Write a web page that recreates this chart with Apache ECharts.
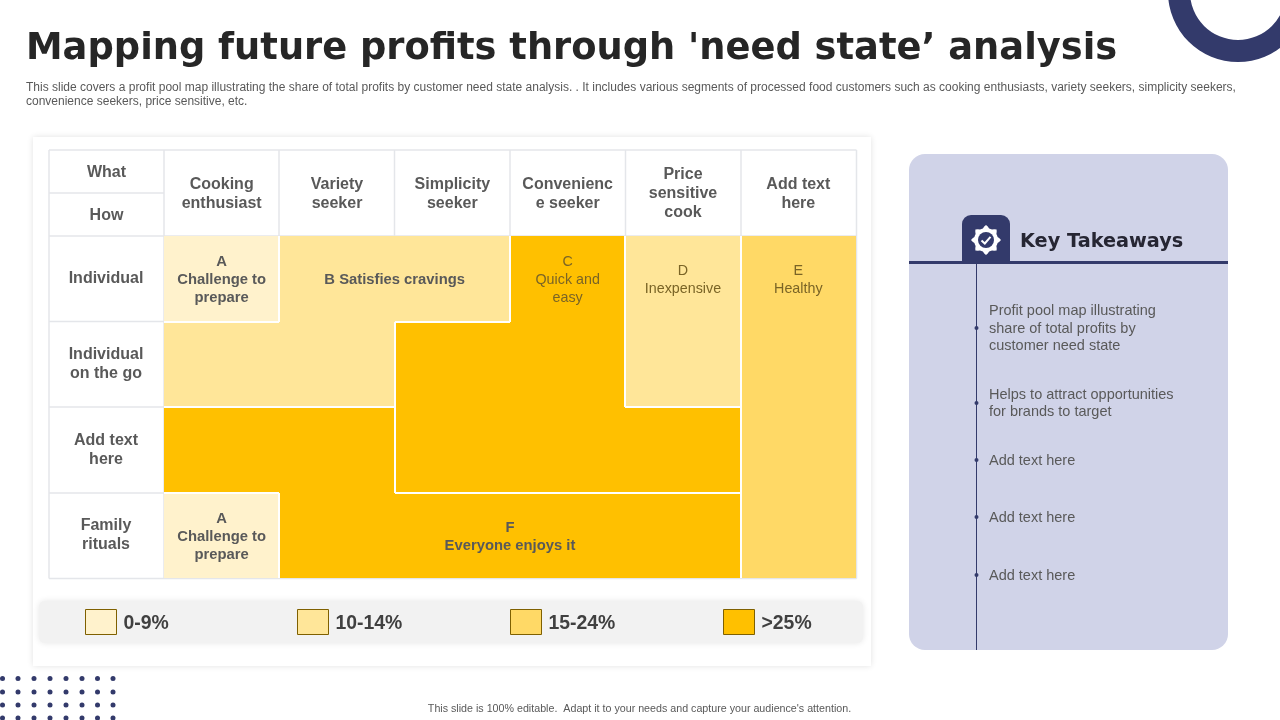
<!DOCTYPE html>
<html>
<head>
<meta charset="utf-8">
<title>Need state analysis</title>
<script src="https://cdn.jsdelivr.net/npm/echarts@6/dist/echarts.min.js"></script>
<style>
  html, body { margin: 0; padding: 0; background: #fff; }
  #main { width: 1280px; height: 720px; }
</style>
</head>
<body>
<div id="main"></div>
<script>
// 数据
const segments = ['Cooking\nenthusiast', 'Variety\nseeker', 'Simplicity\nseeker', 'Convenienc\ne seeker', 'Price\nsensitive\ncook', 'Add text\nhere'];
const occasions = ['Individual', 'Individual\non the go', 'Add text\nhere', 'Family\nrituals'];
const legendLabels = ['0-9%', '10-14%', '15-24%', '>25%'];
// share band per cell, one row per occasion (index into legendLabels)
const bandRow0 = [0, 1, 1, 3, 1, 2];
const bandRow1 = [1, 1, 3, 3, 1, 2];
const bandRow2 = [3, 3, 3, 3, 3, 2];
const bandRow3 = [0, 3, 3, 3, 3, 2];
// which merged block each cell belongs to
const blockRow0 = ['A', 'B', 'B', 'C', 'D', 'E'];
const blockRow1 = ['B', 'B', 'C', 'C', 'D', 'E'];
const blockRow2 = ['F', 'F', 'C', 'C', 'C', 'E'];
const blockRow3 = ['A2', 'F', 'F', 'F', 'F', 'E'];
// block captions: first column, last column, row, text, bold
const captions = [
    [0, 0, 0, 'A\nChallenge to\nprepare', true],
    [1, 2, 0, 'B Satisfies cravings', true],
    [3, 3, 0, 'C\nQuick and\neasy', false],
    [4, 4, 0, 'D\nInexpensive', false],
    [5, 5, 0, 'E\nHealthy', false],
    [0, 0, 3, 'A\nChallenge to\nprepare', true],
    [1, 4, 3, 'F\nEveryone enjoys it', true]
];
const takeaways = [
    'Profit pool map illustrating\nshare of total profits by\ncustomer need state',
    'Helps to attract opportunities\nfor brands to target',
    'Add text here',
    'Add text here',
    'Add text here'
];

const bandRows = [bandRow0, bandRow1, bandRow2, bandRow3];
const blockRows = [blockRow0, blockRow1, blockRow2, blockRow3];

// 样式
const bandColors = ['#FFF2CC', '#FFE699', '#FFD966', '#FFC000'];
const navy = '#333A6B';
const textGrey = '#595959';
const lineGrey = '#E4E6EA';
const sans = '"Liberation Sans", Arial, sans-serif';
const heavy = '"DejaVu Sans", Verdana, sans-serif';

const chart = echarts.init(document.getElementById('main'));

const cellData = [];
bandRows.forEach((row, r) => row.forEach((band, c) => cellData.push([c, r, band])));

function renderCell(params, api) {
    const c = api.value(0);
    const r = api.value(1);
    const center = api.coord([c, r]);
    const size = api.size([1, 1]);
    const x0 = Math.round(center[0] - size[0] / 2);
    const x1 = Math.round(center[0] + size[0] / 2);
    const y0 = Math.round(center[1] - size[1] / 2);
    const y1 = Math.round(center[1] + size[1] / 2);
    const children = [{
        type: 'rect',
        shape: { x: x0, y: y0, width: x1 - x0, height: y1 - y0 },
        style: { fill: bandColors[api.value(2)] }
    }];
    const edge = (ax, ay, bx, by) => ({
        type: 'line',
        z2: 5,
        shape: { x1: ax, y1: ay, x2: bx, y2: by },
        style: { stroke: '#FFFFFF', lineWidth: 2 }
    });
    // 只在不同区块之间画白线
    if (c < segments.length - 1 && blockRows[r][c] !== blockRows[r][c + 1]) {
        children.push(edge(x1, y0, x1, y1));
    }
    if (r < occasions.length - 1 && blockRows[r][c] !== blockRows[r + 1][c]) {
        children.push(edge(x0, y1, x1, y1));
    }
    return { type: 'group', children: children };
}

function renderCaption(params, api) {
    const start = api.coord([api.value(0), api.value(2)]);
    const end = api.coord([api.value(1), api.value(2)]);
    const item = captions[params.dataIndex];
    return {
        type: 'text',
        z2: 10,
        style: {
            x: (start[0] + end[0]) / 2,
            y: start[1] + 1.3,
            text: item[3],
            align: 'center',
            verticalAlign: 'middle',
            lineHeight: 18,
            fill: item[4] ? textGrey : '#7A6426',
            font: (item[4] ? 'bold 14.8px ' : '14.3px ') + sans
        }
    };
}

// 表头、卡片等装饰
const frame = [
    { type: 'rect', shape: { x: 33, y: 137, width: 838, height: 529 }, style: { fill: '#fff', shadowBlur: 6, shadowColor: 'rgba(0,0,0,0.12)' } },
    { type: 'rect', shape: { x: 39, y: 601, width: 824, height: 42, r: 6 }, style: { fill: '#F2F2F2', shadowBlur: 6, shadowColor: 'rgba(0,0,0,0.10)' } }
];
const tableLine = (x1, y1, x2, y2) => ({
    type: 'line',
    shape: { x1: x1, y1: y1, x2: x2, y2: y2 },
    style: { stroke: lineGrey, lineWidth: 1.5 }
});
[49, 164, 279, 394.5, 510, 625.5, 741, 856.5].forEach((x, i) => {
    const full = i < 2 || i === 7;
    frame.push(tableLine(x, 150, x, full ? 578.5 : 236));
});
[150, 236].forEach(y => frame.push(tableLine(49, y, 856.5, y)));
frame.push(tableLine(49, 193, 164, 193));
[321.5, 407, 493, 578.5].forEach(y => frame.push(tableLine(49, y, 164, y)));
frame.push(tableLine(164, 578.5, 856.5, 578.5));

const cornerText = (text, y) => ({
    type: 'text',
    style: { x: 106.5, y: y, text: text, align: 'center', verticalAlign: 'middle', fill: textGrey, font: 'bold 16px ' + sans }
});
frame.push(cornerText('What', 173), cornerText('How', 216));

// 图例
const legendX = [85, 297, 510, 723];
legendLabels.forEach((label, i) => {
    frame.push({
        type: 'rect',
        shape: { x: legendX[i] + 0.5, y: 609.5, width: 31, height: 25 },
        style: { fill: bandColors[i], stroke: '#7F6000', lineWidth: 1 }
    });
    frame.push({
        type: 'text',
        style: { x: legendX[i] + 38.5, y: 623.5, text: label, verticalAlign: 'middle', fill: '#404040', font: 'bold 19.4px ' + sans }
    });
});

// 标题和说明
frame.push({
    type: 'text',
    style: { x: 26, y: 49.5, text: "Mapping future profits through 'need state’ analysis", verticalAlign: 'middle', fill: '#262626', font: 'bold 36.8px ' + heavy }
});
frame.push({
    type: 'text',
    style: {
        x: 26, y: 95,
        text: 'This slide covers a profit pool map illustrating the share of total profits by customer need state analysis. . It includes various segments of processed food customers such as cooking enthusiasts, variety seekers, simplicity seekers,\nconvenience seekers, price sensitive, etc.',
        verticalAlign: 'middle', lineHeight: 14, fill: textGrey, font: '12px ' + sans
    }
});
frame.push({
    type: 'text',
    style: {
        x: 639.5, y: 709,
        text: "This slide is 100% editable.  Adapt it to your needs and capture your audience's attention.",
        align: 'center', verticalAlign: 'middle', fill: textGrey, font: '10.7px ' + sans
    }
});

// 右上角圆环
frame.push({
    type: 'ring',
    shape: { cx: 1238, cy: -8, r: 70, r0: 48 },
    style: { fill: navy }
});

// 左下角点阵
[2.5, 18, 34, 50, 66, 82, 97.5, 113].forEach(x => {
    [678.5, 692, 705, 718].forEach(y => {
        frame.push({ type: 'circle', shape: { cx: x, cy: y, r: 2.5 }, style: { fill: navy } });
    });
});

// 右侧面板
frame.push({ type: 'rect', shape: { x: 909, y: 154, width: 319, height: 496, r: 16 }, style: { fill: '#D0D3E8' } });
frame.push({ type: 'rect', shape: { x: 962, y: 215, width: 48, height: 48, r: [9, 9, 0, 0] }, style: { fill: navy } });
frame.push({ type: 'rect', shape: { x: 909, y: 261, width: 319, height: 3 }, style: { fill: navy } });
frame.push({ type: 'rect', shape: { x: 976, y: 264, width: 1, height: 386 }, style: { fill: navy } });
frame.push({
    type: 'text',
    style: { x: 1020, y: 242, text: 'Key Takeaways', verticalAlign: 'middle', fill: '#262633', font: 'bold 19.3px ' + heavy }
});

// 齿轮图标
const gearPoints = [];
for (let i = 0; i < 48; i++) {
    const step = i % 6;
    const radius = step === 0 ? 15 : (step === 1 || step === 5) ? 13.5 : 12;
    const angle = i / 48 * Math.PI * 2;
    gearPoints.push([986 + radius * Math.cos(angle), 240 + radius * Math.sin(angle)]);
}
frame.push({ type: 'polygon', shape: { points: gearPoints }, style: { fill: '#fff' } });
frame.push({ type: 'circle', shape: { cx: 986, cy: 240, r: 8 }, style: { fill: navy } });
frame.push({
    type: 'polyline',
    shape: { points: [[981.5, 240.5], [984.8, 243.5], [990.5, 236.8]] },
    style: { stroke: '#fff', lineWidth: 2, fill: null }
});

const takeawayY = [328, 403, 460, 517, 575];
takeaways.forEach((text, i) => {
    frame.push({ type: 'circle', shape: { cx: 976.5, cy: takeawayY[i], r: 2 }, style: { fill: navy } });
    frame.push({
        type: 'text',
        style: {
            x: 989, y: takeawayY[i] + 0.6,
            text: text, verticalAlign: 'middle', lineHeight: 17.5, fill: textGrey, font: '14.5px ' + sans
        }
    });
});

chart.setOption({
    animation: false,
    backgroundColor: '#fff',
    textStyle: { fontFamily: sans },
    graphic: { elements: frame },
    grid: { left: 164, right: 1280 - 856, top: 236, bottom: 720 - 578, containLabel: false },
    xAxis: {
        type: 'category',
        position: 'top',
        data: segments,
        axisLine: { show: false },
        axisTick: { show: false },
        splitLine: { show: false },
        axisLabel: {
            interval: 0,
            margin: 42,
            verticalAlign: 'middle',
            lineHeight: 19,
            color: textGrey,
            fontSize: 16,
            fontWeight: 'bold'
        }
    },
    yAxis: {
        type: 'category',
        inverse: true,
        data: occasions,
        axisLine: { show: false },
        axisTick: { show: false },
        splitLine: { show: false },
        axisLabel: {
            interval: 0,
            margin: 58,
            align: 'center',
            verticalAlign: 'middle',
            padding: [6, 0, 0, 0],
            lineHeight: 19,
            color: textGrey,
            fontSize: 16,
            fontWeight: 'bold'
        }
    },
    series: [
        {
            name: 'share',
            type: 'custom',
            silent: true,
            coordinateSystem: 'cartesian2d',
            renderItem: renderCell,
            encode: { x: 0, y: 1 },
            data: cellData
        },
        {
            name: 'captions',
            type: 'custom',
            silent: true,
            z: 5,
            coordinateSystem: 'cartesian2d',
            renderItem: renderCaption,
            encode: { x: 0, y: 2 },
            data: captions.map(item => [item[0], item[1], item[2]])
        }
    ]
});

window.addEventListener('resize', function () {
    chart.resize();
});
</script>
</body>
</html>
